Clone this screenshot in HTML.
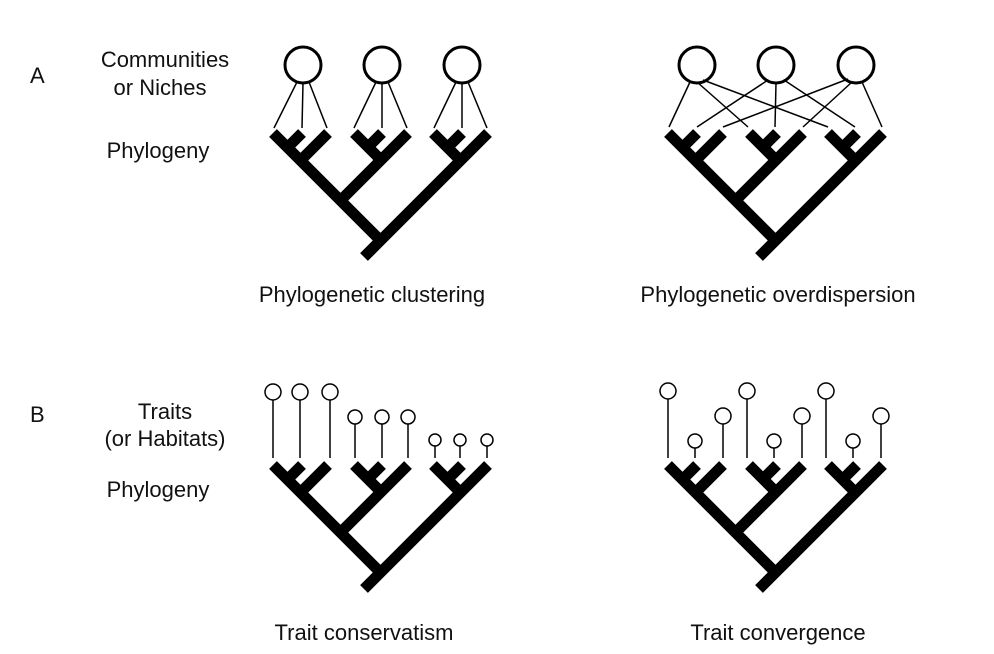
<!DOCTYPE html>
<html><head><style>
html,body{margin:0;padding:0;background:#fff;}
svg{display:block;}
text{font-family:"Liberation Sans",Arial,sans-serif;font-size:22px;fill:#111;}
</style></head><body>
<svg width="994" height="654" viewBox="0 0 994 654" xmlns="http://www.w3.org/2000/svg">
<defs>
<g id="tree" stroke="#000" stroke-width="11" fill="none" stroke-linecap="butt">
<line x1="273" y1="133" x2="383" y2="243"/>
<line x1="302" y1="133" x2="285" y2="150"/>
<line x1="328" y1="133" x2="298" y2="163"/>
<line x1="354" y1="133" x2="383" y2="162"/>
<line x1="382" y1="133" x2="366" y2="149"/>
<line x1="408" y1="133" x2="338" y2="203"/>
<line x1="433" y1="133" x2="462" y2="162"/>
<line x1="462" y1="133" x2="446" y2="149"/>
<line x1="488" y1="133" x2="364" y2="257"/>
</g>
</defs>
<text x="30" y="83">A</text>
<text x="165" y="67" text-anchor="middle">Communities</text>
<text x="160" y="95" text-anchor="middle">or Niches</text>
<text x="158" y="158" text-anchor="middle">Phylogeny</text>
<text x="372" y="302" text-anchor="middle">Phylogenetic clustering</text>
<text x="778" y="302" text-anchor="middle">Phylogenetic overdispersion</text>
<text x="30" y="422">B</text>
<text x="165" y="419" text-anchor="middle">Traits</text>
<text x="165" y="446" text-anchor="middle">(or Habitats)</text>
<text x="158" y="497" text-anchor="middle">Phylogeny</text>
<text x="364" y="640" text-anchor="middle">Trait conservatism</text>
<text x="778" y="640" text-anchor="middle">Trait convergence</text>

<use href="#tree"/>
<use href="#tree" transform="translate(395,0)"/>
<use href="#tree" transform="translate(0,332)"/>
<use href="#tree" transform="translate(395,332)"/>

<g stroke="#000" fill="none">
<g stroke-width="3">
<circle cx="303" cy="65" r="18"/><circle cx="382" cy="65" r="18"/><circle cx="462" cy="65" r="18"/>
<circle cx="697" cy="65" r="18"/><circle cx="776" cy="65" r="18"/><circle cx="856" cy="65" r="18"/>
</g>
<g stroke-width="1.5">
<line x1="297" y1="82" x2="274" y2="128"/><line x1="303" y1="83" x2="302" y2="128"/><line x1="309" y1="82" x2="327" y2="128"/>
<line x1="376" y1="82" x2="354" y2="128"/><line x1="382" y1="83" x2="382" y2="128"/><line x1="388" y1="82" x2="407" y2="128"/>
<line x1="456" y1="82" x2="434" y2="128"/><line x1="462" y1="83" x2="462" y2="128"/><line x1="468" y1="82" x2="487" y2="128"/>
<line x1="690" y1="82" x2="669" y2="127"/><line x1="697" y1="82" x2="748" y2="127"/><line x1="703" y1="80" x2="828" y2="127"/>
<line x1="768" y1="80" x2="697" y2="127"/><line x1="776" y1="83" x2="775" y2="127"/><line x1="784" y1="80" x2="855" y2="127"/>
<line x1="848" y1="79" x2="723" y2="127"/><line x1="852" y1="82" x2="803" y2="127"/><line x1="862" y1="82" x2="882" y2="127"/>
</g>
<g stroke-width="1.5">
<circle cx="273" cy="392" r="8"/><line x1="273" y1="400" x2="273" y2="458"/>
<circle cx="300" cy="392" r="8"/><line x1="300" y1="400" x2="300" y2="458"/>
<circle cx="330" cy="392" r="8"/><line x1="330" y1="400" x2="330" y2="458"/>
<circle cx="355" cy="417" r="7"/><line x1="355" y1="424" x2="355" y2="458"/>
<circle cx="382" cy="417" r="7"/><line x1="382" y1="424" x2="382" y2="458"/>
<circle cx="408" cy="417" r="7"/><line x1="408" y1="424" x2="408" y2="458"/>
<circle cx="435" cy="440" r="6"/><line x1="435" y1="446" x2="435" y2="458"/>
<circle cx="460" cy="440" r="6"/><line x1="460" y1="446" x2="460" y2="458"/>
<circle cx="487" cy="440" r="6"/><line x1="487" y1="446" x2="487" y2="458"/>

<circle cx="668" cy="391" r="8"/><line x1="668" y1="399" x2="668" y2="458"/>
<circle cx="695" cy="441" r="7"/><line x1="695" y1="448" x2="695" y2="458"/>
<circle cx="723" cy="416" r="8"/><line x1="723" y1="424" x2="723" y2="458"/>
<circle cx="747" cy="391" r="8"/><line x1="747" y1="399" x2="747" y2="458"/>
<circle cx="774" cy="441" r="7"/><line x1="774" y1="448" x2="774" y2="458"/>
<circle cx="802" cy="416" r="8"/><line x1="802" y1="424" x2="802" y2="458"/>
<circle cx="826" cy="391" r="8"/><line x1="826" y1="399" x2="826" y2="458"/>
<circle cx="853" cy="441" r="7"/><line x1="853" y1="448" x2="853" y2="458"/>
<circle cx="881" cy="416" r="8"/><line x1="881" y1="424" x2="881" y2="458"/>
</g>
</g>
</svg>
</body></html>
